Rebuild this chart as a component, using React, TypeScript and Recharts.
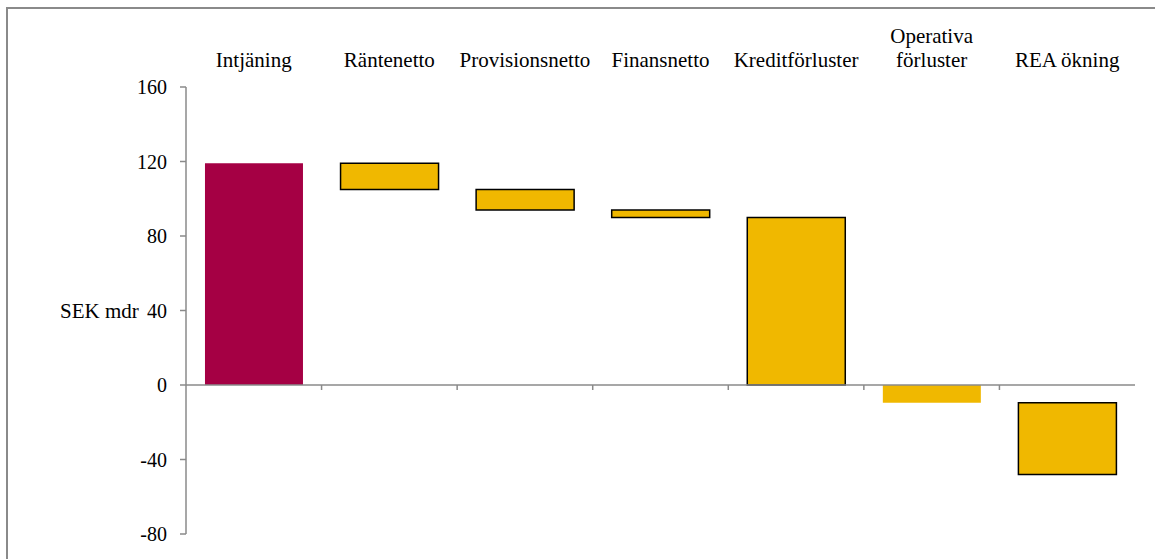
import React from 'react';
import { BarChart, Bar, XAxis, YAxis, Cell, ReferenceLine } from 'recharts';

const categories = ['Intjäning', 'Räntenetto', 'Provisionsnetto', 'Finansnetto', 'Kreditförluster', 'Operativa\nförluster', 'REA ökning'];
const barStart = [0, 105, 94, 90, 0, 0, -9.5];
const barEnd = [119, 119, 105, 94, 90, -9.5, -48];
const barColors = ['#A50044', '#F0B800', '#F0B800', '#F0B800', '#F0B800', '#F0B800', '#F0B800'];
const barOutlined = [false, true, true, true, true, false, true];
const yTicks = [-80, -40, 0, 40, 80, 120, 160];

const data = categories.map((name, i) => ({ name, range: [barStart[i], barEnd[i]] }));

const FONT = '"Liberation Serif", "Times New Roman", serif';
const AXIS = '#8a8a8a';

function CatTick(props: any) {
  const { x, y, payload } = props;
  const lines = String(payload.value).split('\n');
  const n = lines.length;
  return (
    <g>
      {lines.map((l, i) => (
        <text key={i} x={x} y={y - 12 - (n - 1 - i) * 24} textAnchor="middle" fontFamily={FONT} fontSize={21} fill="#000">
          {l}
        </text>
      ))}
    </g>
  );
}

export default function App() {
  return (
    <div style={{ position: 'relative', width: 1155, height: 559, background: '#fff' }}>
      <style>{`body{margin:0}`}</style>
      <div style={{ position: 'absolute', left: 6, top: 7, width: 1149, height: 552, borderTop: `2px solid ${AXIS}`, borderLeft: `2px solid ${AXIS}`, boxSizing: 'border-box' }} />
      <div style={{ position: 'absolute', left: 0, top: 0 }}>
        <BarChart width={1155} height={559} data={data} margin={{ top: 0, right: 20, bottom: 25, left: 0 }} barCategoryGap="14%">
          <XAxis xAxisId="cat" dataKey="name" orientation="top" height={87} axisLine={false} tickLine={false} interval={0} tick={<CatTick />} />
          <YAxis
            width={186}
            domain={[-80, 160]}
            ticks={yTicks}
            interval={0}
            allowDataOverflow
            axisLine={{ stroke: AXIS, strokeWidth: 1.5 }}
            tickLine={{ stroke: AXIS, strokeWidth: 1.5 }}
            tickSize={6}
            tickMargin={13}
            tick={{ fontFamily: FONT, fontSize: 20, fill: '#000' }}
            label={{ value: 'SEK mdr', position: 'insideLeft', offset: 60, fontFamily: FONT, fontSize: 21, fill: '#000' }}
          />
          <Bar xAxisId="cat" dataKey="range" isAnimationActive={false}>
            {data.map((d, i) => (
              <Cell key={i} fill={barColors[i]} stroke={barOutlined[i] ? '#000' : 'none'} strokeWidth={barOutlined[i] ? 1.5 : 0} />
            ))}
          </Bar>
          <ReferenceLine xAxisId="cat" y={0} stroke={AXIS} strokeWidth={1.5} />
          {categories.map((c) => (
            <ReferenceLine key={c} xAxisId="cat" position="end" segment={[{ x: c, y: 0 }, { x: c, y: -2.7 }]} stroke={AXIS} strokeWidth={1.5} />
          ))}
        </BarChart>
      </div>
    </div>
  );
}
